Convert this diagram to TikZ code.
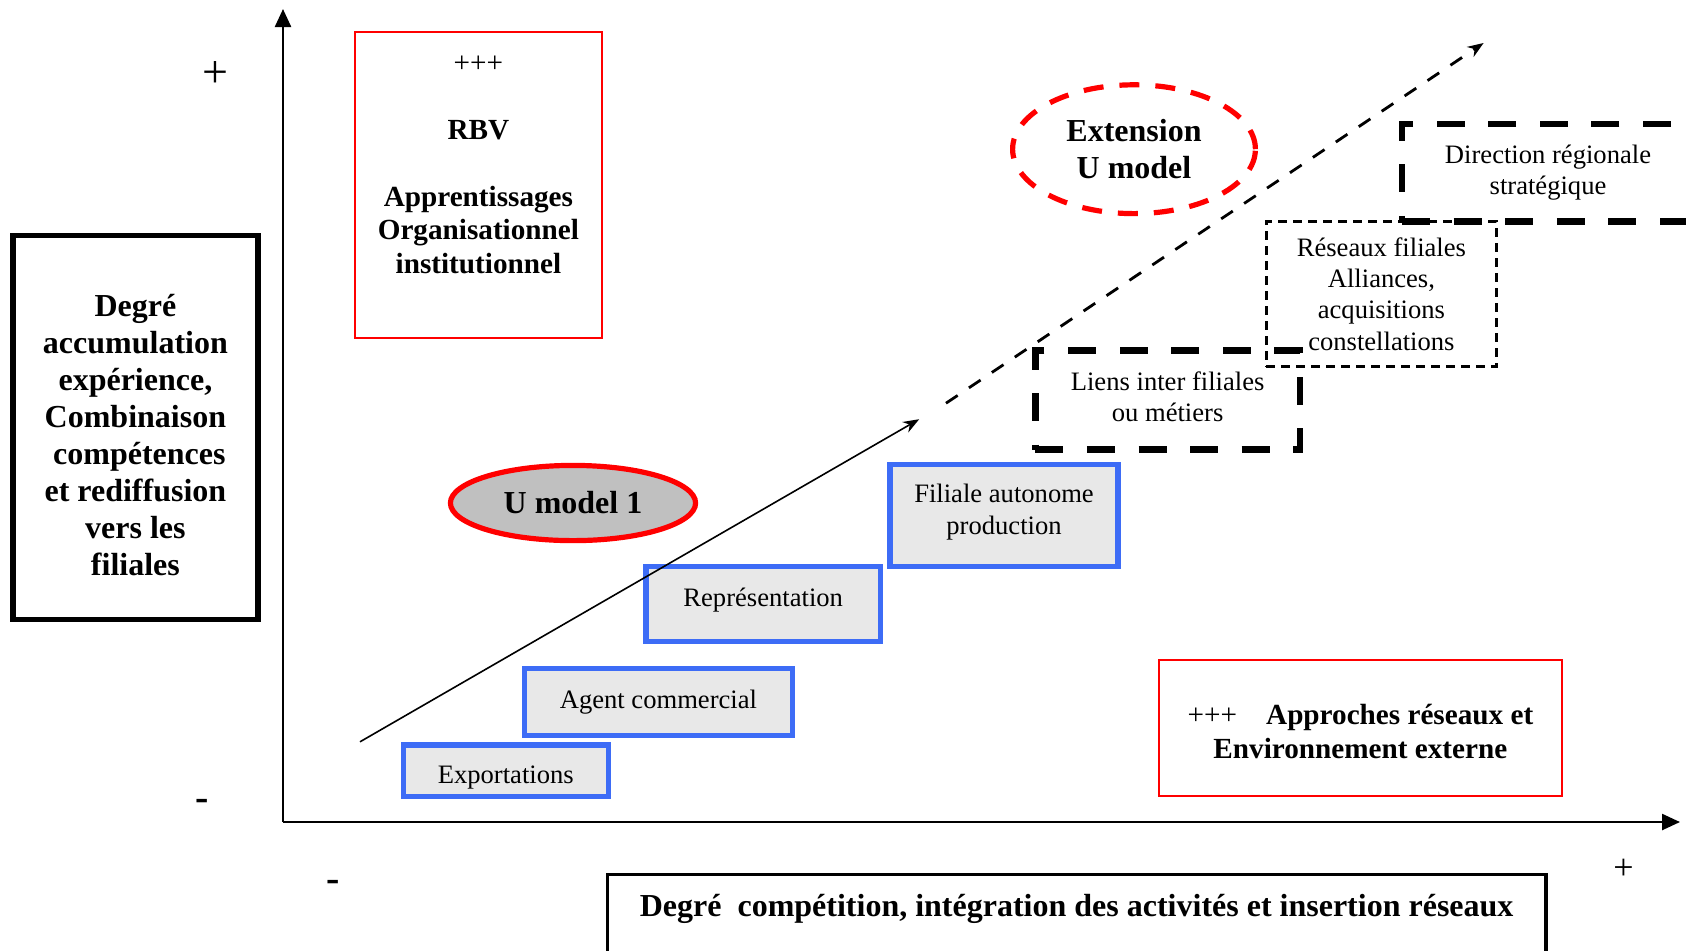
\documentclass[tikz,border=0pt]{standalone}
\usepackage{fontspec}
\setmainfont{Liberation Serif}
\usepackage{tikz}
\usetikzlibrary{shapes.geometric,arrows.meta}
\definecolor{stageblue}{RGB}{61,108,246}
\definecolor{stagegray}{RGB}{232,232,232}
\definecolor{ovalgray}{RGB}{192,192,192}

\begin{document}
\begin{tikzpicture}[>={Stealth[width=6pt,length=8pt]},
  axis/.style={line width=1.2pt, -{Triangle[width=8pt,length=9pt]}},
  bigbold/.style={font=\fontsize{16}{18.5}\selectfont\bfseries, align=center},
  midbold/.style={font=\fontsize{14.6}{16.9}\selectfont\bfseries, align=center},
  plain/.style={font=\fontsize{13.3}{15.6}\selectfont, align=center},
  stage/.style={draw=stageblue, fill=stagegray, line width=2.6pt, plain, inner sep=0pt},
  redbox/.style={draw=red, line width=1pt, inner sep=0pt},
  thickdash/.style={draw, line width=3.2pt, dash pattern=on 14pt off 11.8pt, plain, inner sep=0pt},
  thindash/.style={draw, line width=1.4pt, dash pattern=on 4.5pt off 3pt, plain, inner sep=0pt}]
\useasboundingbox (0pt,0pt) rectangle (843pt,-475pt);
% axes
\coordinate (o) at (141.5pt,-411pt);
\coordinate (ytop) at (141.5pt,-4.5pt);
\coordinate (xend) at (840pt,-411pt);
\draw[axis] (o) -- (ytop);
\draw[axis] (o) -- (xend);
\draw (107.8pt, -37.0pt)node[font=\fontsize{23}{23}\selectfont](yplus){+};
\draw (101.0pt, -402.7pt)node[font=\fontsize{20}{20}\selectfont\bfseries](yminus){-};
\draw (166.6pt, -443.2pt)node[font=\fontsize{20}{20}\selectfont\bfseries](xminus){-};
\draw (811.8pt, -434.5pt)node[font=\fontsize{18}{18}\selectfont](xplus){+};
% axis titles
\draw (67.7pt, -213.7pt)node[draw, line width=2.7pt, minimum width=122.5pt, minimum height=192pt, bigbold](ydeg){\rule{0pt}{18.5pt}Degré\\accumulation\\expérience,\\Combinaison\\~compétences\\et rediffusion\\vers les\\filiales};
\draw (538.3pt, -436.5pt)node[anchor=north, draw, line width=1.6pt, minimum width=469.3pt, text height=17pt, text depth=30pt, inner sep=4pt, bigbold](xdeg){Degré~~compétition, intégration des activités et insertion réseaux};
% theories
\draw (239.2pt, -92.5pt)node[redbox, minimum width=123.6pt, minimum height=152.7pt](rbv){};
\draw (239.2pt, -82.5pt)node[midbold](rbvtxt){{\mdseries +++}\\[16.5pt]RBV\\[16.5pt]Apprentissages\\Organisationnel\\institutionnel};
\draw (680.2pt, -363.9pt)node[redbox, minimum width=201.6pt, minimum height=67.7pt, midbold](net){\rule{0pt}{13.8pt}{\mdseries +++}\hspace{1em}Approches réseaux et\\Environnement externe};
% models
\draw (286.5pt, -251.5pt)node[ellipse, draw=red, fill=ovalgray, line width=2.6pt, minimum width=122.6pt, minimum height=37.6pt, inner sep=0pt, bigbold](um1){U model 1};
\draw (567.0pt, -74.6pt)node[ellipse, draw=red, line width=2.6pt, dash pattern=on 10pt off 8pt, minimum width=121.4pt, minimum height=64.4pt, inner sep=0pt, bigbold](ext){Extension\\U model};
% stages
\draw (252.9pt, -385.4pt)node[stage, minimum width=102.6pt, minimum height=25.8pt, text height=14.6pt, text depth=2pt](exp){Exportations};
\draw (329.2pt, -351.0pt)node[stage, minimum width=133.8pt, minimum height=33.3pt](agent){Agent commercial};
\draw (381.6pt, -302.1pt)node[stage, minimum width=117.2pt, minimum height=37.6pt, text height=9.1pt, text depth=7.2pt](repr){Représentation};
\draw (502.0pt, -257.7pt)node[stage, minimum width=114.0pt, minimum height=51.0pt](fil){Filiale autonome\\production\rule[-6.1pt]{0pt}{6.1pt}};
\draw (583.8pt, -200.0pt)node[thickdash, minimum width=132.3pt, minimum height=49.5pt](liens){Liens inter filiales\\ou métiers\rule[-3.2pt]{0pt}{3.2pt}};
\draw (690.7pt, -147.0pt)node[thindash, minimum width=115.0pt, minimum height=72.6pt](res){Réseaux filiales\\Alliances,\\acquisitions\\constellations};
\draw (774.0pt, -86.3pt)node[thickdash, minimum width=146.0pt, minimum height=48.9pt](dir){Direction régionale\\stratégique};
% trends
\coordinate (s1) at (180.0pt, -370.9pt);
\coordinate (e1) at (459.6pt, -209.6pt);
\coordinate (s2) at (473.0pt, -201.6pt);
\coordinate (e2) at (741.8pt, -21.5pt);
\path[->, line width=0.8pt] (s1) edge (e1);
\path[->, line width=1.4pt, dash pattern=on 7pt off 6.8pt] (s2) edge (e2);
\end{tikzpicture}
\end{document}
